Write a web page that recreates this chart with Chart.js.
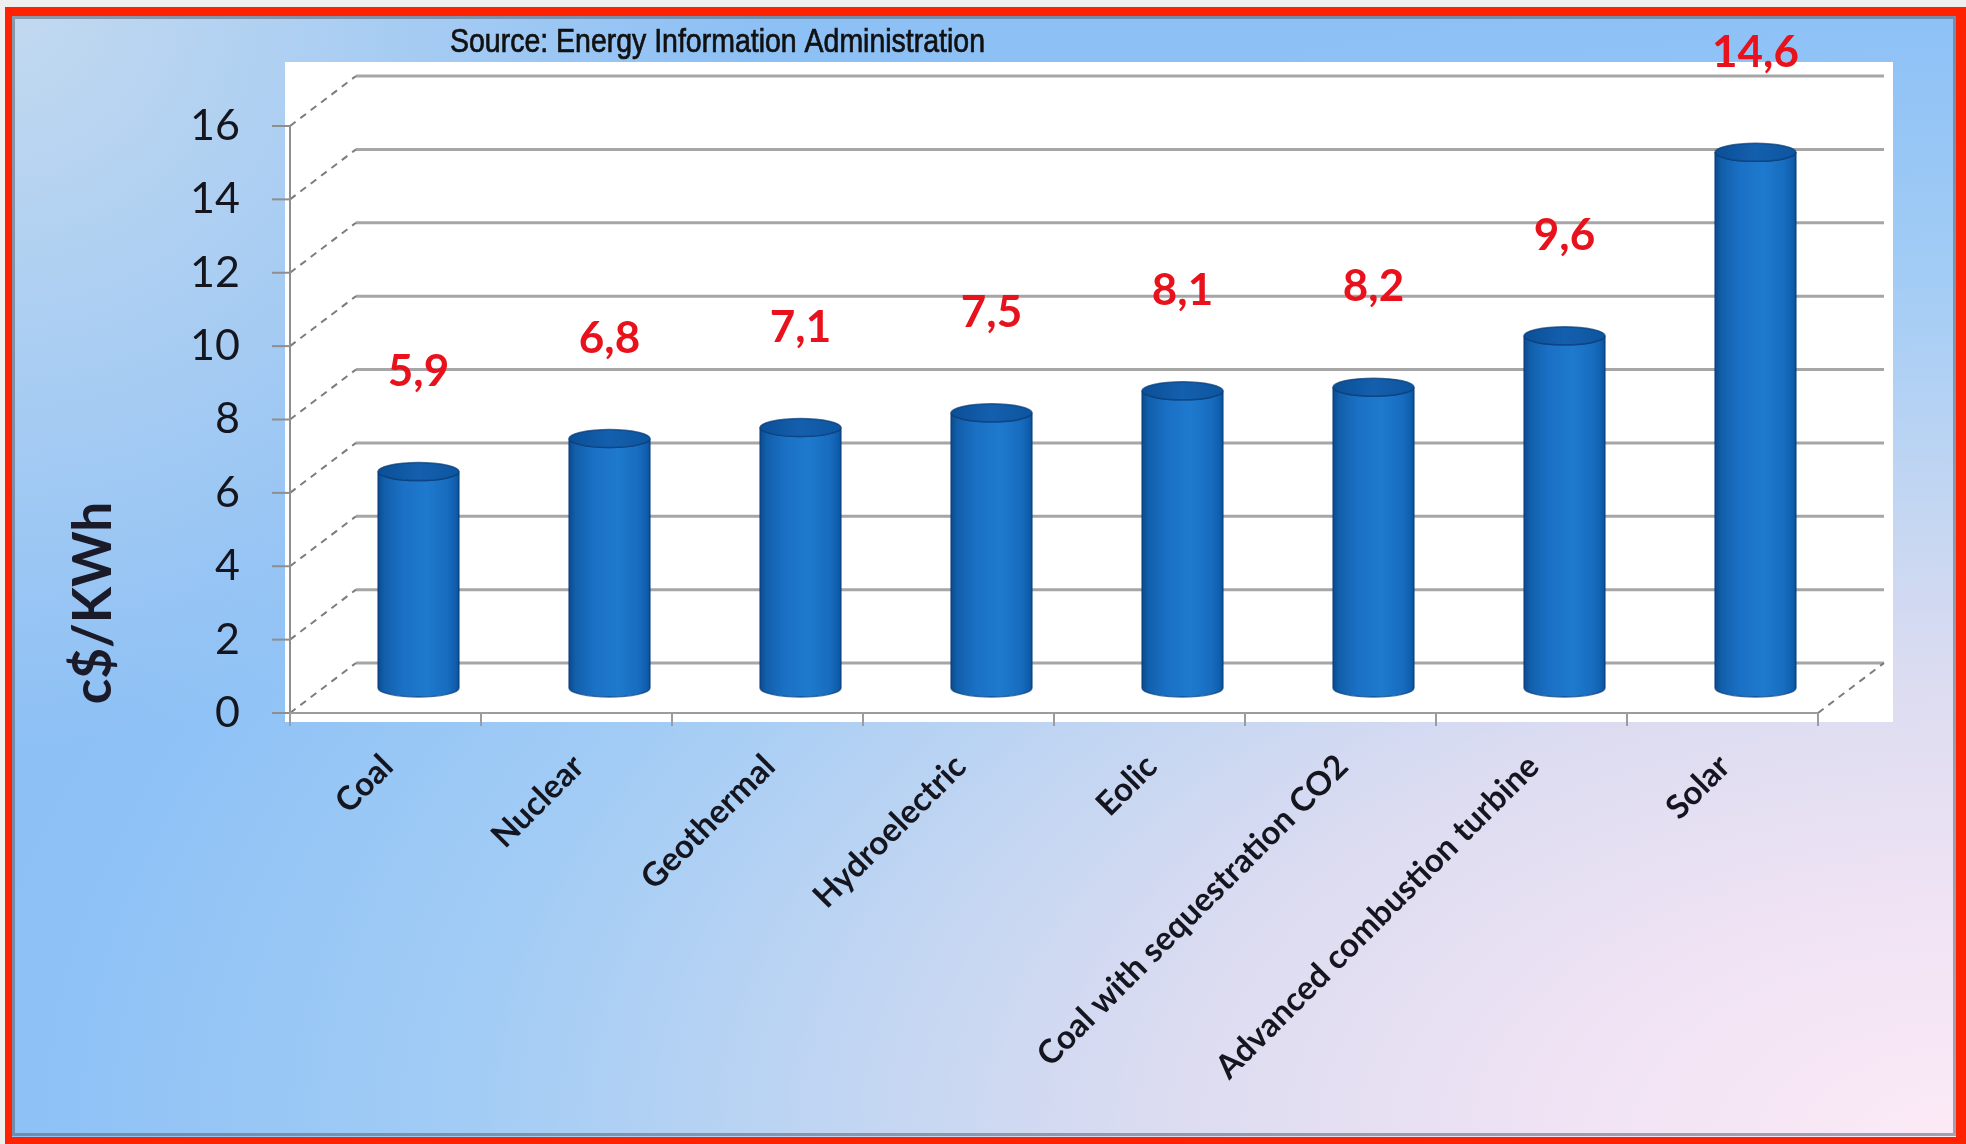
<!DOCTYPE html>
<html>
<head>
<meta charset="utf-8">
<title>Generation cost by source</title>
<script src="https://cdn.jsdelivr.net/npm/chart.js@4.4.1/dist/chart.umd.min.js"></script>
<style>
    html, body { margin: 0; padding: 0; background: #efefef; }
    #wrap { width: 1966px; height: 1144px; }
</style>
</head>
<body>
<div id="wrap"><canvas id="costChart" width="1966" height="1144"></canvas></div>
<script>
// Levelized cost per source, c$/KWh
const sources = ['Coal', 'Nuclear', 'Geothermal', 'Hydroelectric', 'Eolic',
    'Coal with sequestration CO2', 'Advanced combustion turbine', 'Solar'];
const costs = [5.9, 6.8, 7.1, 7.5, 8.1, 8.2, 9.6, 14.6];
const yTicks = [0, 2, 4, 6, 8, 10, 12, 14, 16];
const sourceNote = 'Source: Energy Information Administration';
const axisTitle = 'c$/KWh';

// fake 3D: how far the back wall sits up and to the right of the front plane
const DEPTH_X = 66;
const DEPTH_Y = -50;

const W = 1966, H = 1144;

// Frame, gradient backdrop and the white plot panel
const backdrop = {
    id: 'backdrop',
    beforeDraw(chart) {
        const ctx = chart.ctx;
        ctx.save();
        ctx.fillStyle = '#efefef';
        ctx.fillRect(0, 0, W, H);

        // red outer frame
        ctx.fillStyle = '#ff2200';
        ctx.fillRect(5, 7, W - 5, H - 7);

        // soft gradient, pink in the lower right fading to blue
        ctx.save();
        ctx.beginPath();
        ctx.rect(12, 16, W - 22, H - 23);
        ctx.clip();
        ctx.translate(W, H);
        ctx.scale(1, 0.58);
        const g = ctx.createRadialGradient(0, 0, 0, 0, 0, 2000);
        g.addColorStop(0, '#fceaf6');
        g.addColorStop(0.2, '#f0e3f4');
        g.addColorStop(0.4, '#dcdcf1');
        g.addColorStop(0.55, '#c3d6f2');
        g.addColorStop(0.75, '#a2ccf5');
        g.addColorStop(0.95, '#8fc2f6');
        g.addColorStop(1, '#8dc0f5');
        ctx.fillStyle = g;
        ctx.fillRect(-W, -H / 0.58, W, H / 0.58);
        ctx.restore();

        ctx.save();
        ctx.beginPath();
        ctx.rect(12, 16, W - 22, H - 23);
        ctx.clip();
        const hl = ctx.createRadialGradient(0, 0, 0, 0, 0, 750);
        hl.addColorStop(0, 'rgba(214,226,238,0.75)');
        hl.addColorStop(1, 'rgba(214,226,238,0)');
        ctx.fillStyle = hl;
        ctx.fillRect(0, 0, 800, 800);
        ctx.restore();

        // thin dark rim inside the red frame
        ctx.strokeStyle = 'rgba(90,100,115,0.55)';
        ctx.lineWidth = 3;
        ctx.strokeRect(13.5, 17.5, W - 25, H - 27);

        // white plot panel
        ctx.fillStyle = '#ffffff';
        ctx.fillRect(285, 62, 1893 - 285, 722 - 62);

        // source note, squeezed to a narrow face
        ctx.fillStyle = '#111111';
        ctx.strokeStyle = '#111111';
        ctx.lineWidth = 0.7;
        ctx.font = '33px "Liberation Sans", Arial, sans-serif';
        ctx.textAlign = 'left';
        ctx.textBaseline = 'alphabetic';
        const squeeze = 535 / ctx.measureText(sourceNote).width;
        ctx.translate(450, 52);
        ctx.scale(squeeze, 1);
        ctx.fillText(sourceNote, 0, 0);
        ctx.strokeText(sourceNote, 0, 0);
        ctx.restore();
    }
};

// Back wall gridlines, side wall diagonals and the front axes
const walls = {
    id: 'walls',
    beforeDatasetsDraw(chart) {
        const ctx = chart.ctx;
        const { left, right } = chart.chartArea;
        const y = chart.scales.y;
        const y0 = y.getPixelForValue(0);
        ctx.save();

        // gridlines on the back wall
        ctx.strokeStyle = '#a6a6a6';
        ctx.lineWidth = 3;
        yTicks.forEach(v => {
            const py = y.getPixelForValue(v) + DEPTH_Y;
            ctx.beginPath();
            ctx.moveTo(left + DEPTH_X, py);
            ctx.lineTo(right + DEPTH_X, py);
            ctx.stroke();
        });

        // dashed receding lines on the side wall and the floor corner
        ctx.strokeStyle = '#7c7c7c';
        ctx.lineWidth = 2;
        ctx.setLineDash([7, 6]);
        yTicks.forEach(v => {
            const py = y.getPixelForValue(v);
            ctx.beginPath();
            ctx.moveTo(left, py);
            ctx.lineTo(left + DEPTH_X, py + DEPTH_Y);
            ctx.stroke();
        });
        ctx.beginPath();
        ctx.moveTo(right, y0);
        ctx.lineTo(right + DEPTH_X, y0 + DEPTH_Y);
        ctx.stroke();
        ctx.setLineDash([]);

        // front value axis with tick marks
        ctx.strokeStyle = '#8e8e8e';
        ctx.lineWidth = 2;
        ctx.beginPath();
        ctx.moveTo(left, y.getPixelForValue(16));
        ctx.lineTo(left, y0 + 10);
        ctx.stroke();
        yTicks.forEach(v => {
            const py = y.getPixelForValue(v);
            ctx.beginPath();
            ctx.moveTo(left - 18, py);
            ctx.lineTo(left, py);
            ctx.stroke();
        });

        // front category axis with boundary ticks
        ctx.strokeStyle = '#9c9c9c';
        ctx.beginPath();
        ctx.moveTo(left, y0);
        ctx.lineTo(right, y0);
        ctx.stroke();
        const step = (right - left) / sources.length;
        for (let i = 0; i <= sources.length; i++) {
            const px = left + i * step;
            ctx.beginPath();
            ctx.moveTo(px, y0);
            ctx.lineTo(px, y0 + 13);
            ctx.stroke();
        }

        // value axis title
        ctx.translate(94, 603);
        ctx.rotate(-Math.PI / 2);
        ctx.fillStyle = '#1a1a28';
        ctx.font = 'bold 53px Lato, sans-serif';
        ctx.textAlign = 'center';
        ctx.textBaseline = 'middle';
        ctx.fillText(axisTitle, 0, 0);
        ctx.restore();
    }
};

// Cylinders sitting half way into the depth, with red value labels
const cylinders = {
    id: 'cylinders',
    afterDatasetsDraw(chart) {
        const ctx = chart.ctx;
        const meta = chart.getDatasetMeta(0);
        ctx.save();
        meta.data.forEach((bar, i) => {
            const cx = bar.x + DEPTH_X / 2;
            const top = bar.y + DEPTH_Y / 2;
            const base = bar.base + DEPTH_Y / 2;
            const rx = bar.width / 2;
            const ry = 9;

            const body = ctx.createLinearGradient(cx - rx, 0, cx + rx, 0);
            body.addColorStop(0, '#0a4b90');
            body.addColorStop(0.08, '#125fab');
            body.addColorStop(0.3, '#1a70c4');
            body.addColorStop(0.6, '#1e7ace');
            body.addColorStop(0.86, '#176cbf');
            body.addColorStop(0.96, '#0f5ead');
            body.addColorStop(1, '#0a5096');
            ctx.fillStyle = body;
            ctx.beginPath();
            ctx.moveTo(cx - rx, top);
            ctx.lineTo(cx - rx, base);
            ctx.ellipse(cx, base, rx, ry, 0, Math.PI, 0, true);
            ctx.lineTo(cx + rx, top);
            ctx.ellipse(cx, top, rx, ry, 0, 0, Math.PI, false);
            ctx.closePath();
            ctx.fill();
            ctx.strokeStyle = 'rgba(8,60,120,0.7)';
            ctx.lineWidth = 1.5;
            ctx.stroke();

            const cap = ctx.createLinearGradient(cx - rx, 0, cx + rx, 0);
            cap.addColorStop(0, '#0b4f96');
            cap.addColorStop(0.5, '#145fae');
            cap.addColorStop(1, '#0d559f');
            ctx.fillStyle = cap;
            ctx.beginPath();
            ctx.ellipse(cx, top, rx, ry, 0, 0, Math.PI * 2);
            ctx.fill();
            ctx.stroke();

            ctx.fillStyle = '#e8121c';
            ctx.font = 'bold 44px Lato, sans-serif';
            ctx.textAlign = 'center';
            ctx.textBaseline = 'middle';
            ctx.fillText(costs[i].toFixed(1).replace('.', ','), cx, top - 100);
        });
        ctx.restore();
    }
};

const costCtx = document.getElementById('costChart').getContext('2d');
const costChart = new Chart(costCtx, {
    type: 'bar',
    data: {
        labels: sources,
        datasets: [{
            label: 'c$/KWh',
            data: costs,
            backgroundColor: 'rgba(0,0,0,0)',
            borderWidth: 0,
            barPercentage: 0.424,
            categoryPercentage: 1
        }]
    },
    options: {
        responsive: false,
        animation: false,
        devicePixelRatio: 1,
        layout: {
            padding: { left: 0, top: 126, right: 148, bottom: 0 }
        },
        plugins: {
            legend: { display: false },
            tooltip: { enabled: false }
        },
        scales: {
            x: {
                grid: { display: false, drawTicks: false },
                border: { display: false },
                ticks: {
                    color: '#15151f',
                    font: { family: 'Lato', size: 33, weight: 'bold' },
                    minRotation: 45,
                    maxRotation: 45,
                    padding: 34,
                    labelOffset: 2,
                    autoSkip: false
                },
                afterFit: scale => { scale.height = H - 713; }
            },
            y: {
                min: 0,
                max: 16,
                grid: { display: false, drawTicks: false },
                border: { display: false },
                ticks: {
                    stepSize: 2,
                    color: '#15151d',
                    font: { family: 'Lato', size: 43 },
                    padding: 50
                },
                afterFit: scale => { scale.width = 290; }
            }
        }
    },
    plugins: [backdrop, walls, cylinders]
});
</script>
</body>
</html>
